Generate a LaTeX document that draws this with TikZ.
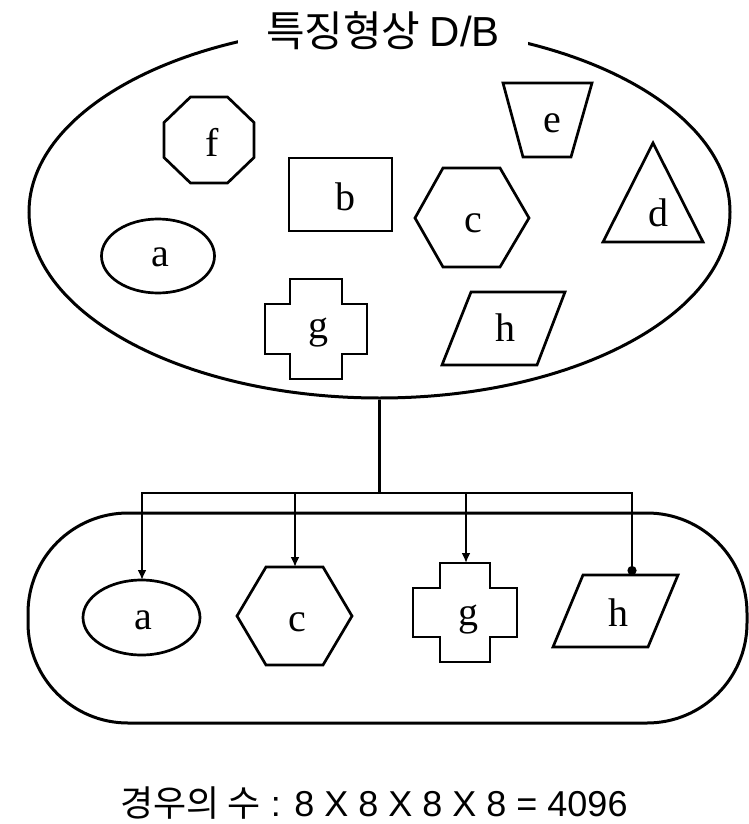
\documentclass[tikz,border=0pt]{standalone}
\usepackage{fontspec}
\setmainfont{Liberation Sans}
\newfontfamily\kr{Noto Sans CJK KR}
\newfontfamily\lett{Liberation Serif}
\usetikzlibrary{shapes.geometric,arrows.meta}

\begin{document}
\begin{tikzpicture}[x=1pt,y=-1pt,
  outline/.style={draw=black,line width=3pt},
  part/.style={draw=black,line width=2.7pt,line join=miter},
  lbl/.style={inner sep=0pt,font=\lett\fontsize{40}{46}\selectfont},
  wire/.style={draw=black,line width=2.5pt},
  arr/.style={wire,-{Latex[length=10pt,width=9pt]}},
  dotarr/.style={wire,-{Circle[length=9pt]}},
  title/.style={fill=white,inner xsep=28pt,inner ysep=6pt,font=\kr\fontsize{42}{48}\selectfont},
]
\useasboundingbox (0,0) rectangle (748,824);

% feature database (upper ellipse)
\node[ellipse,outline,minimum width=701pt,minimum height=372pt,inner sep=0pt] (db) at (379.5,212) {};
\node[title] (dbtitle) at (383,31) {특징형상 {\fontspec{Liberation Sans}D/B}};

% shapes stored in the database
\draw[part] (190.5,97) -- (227.5,97) -- (254,122.5) -- (254,157.5) -- (227.5,183) -- (190.5,183) -- (164,157.5) -- (164,122.5) -- cycle;
\node[lbl] (f) at (212,142) {f};

\draw[part] (289,158) rectangle (392,231);
\node[lbl] (b) at (345,197) {b};

\draw[part] (503,83) -- (592,83) -- (571,157) -- (523,157) -- cycle;
\node[lbl] (e) at (552,123) {e};

\draw[part] (653,143) -- (703,242) -- (603,242) -- cycle;
\node[lbl] (d) at (658,213) {d};

\draw[part] (443,168) -- (500,168) -- (529,218) -- (500,267) -- (443,267) -- (415,218) -- cycle;
\node[lbl] (c) at (473,223) {c};

\draw[part] (158,256) ellipse [x radius=56.5, y radius=37];
\node[lbl] (a) at (160,257) {a};

\begin{scope}[shift={(316,329)}]
\draw[part] (-26,-50) -- (26,-50) -- (26,-25) -- (51,-25) -- (51,25) -- (26,25) -- (26,50) -- (-26,50) -- (-26,25) -- (-51,25) -- (-51,-25) -- (-26,-25) -- cycle;
\end{scope}
\node[lbl] (g) at (318,333) {g};

\draw[part] (471,292) -- (565,292) -- (537,365) -- (442,365) -- cycle;
\node[lbl] (h) at (505,328) {h};

% selected combination (lower rounded box)
\node[rectangle,rounded corners=100pt,outline,minimum width=719pt,minimum height=210pt,inner sep=0pt] (combo) at (387.5,618) {};

\draw[part] (141.5,617.5) ellipse [x radius=58.5, y radius=37.5];
\node[lbl] (a2) at (143,620) {a};

\draw[part] (266,567) -- (323,567) -- (352,616) -- (323,665) -- (266,665) -- (237,616) -- cycle;
\node[lbl] (c2) at (297,622) {c};

\begin{scope}[shift={(465,612.5)}]
\draw[part] (-25,-49.5) -- (25,-49.5) -- (25,-24.5) -- (52,-24.5) -- (52,24.5) -- (25,24.5) -- (25,49.5) -- (-25,49.5) -- (-25,24.5) -- (-52,24.5) -- (-52,-24.5) -- (-25,-24.5) -- cycle;
\end{scope}
\node[lbl] (g2) at (468,620) {g};

\draw[part] (583,575) -- (678,575) -- (648,647) -- (553,647) -- cycle;
\node[lbl] (h2) at (618,613) {h};

% connector tree
\coordinate (trunk) at (db.south |- 0,493);
\coordinate (jA) at (142,493);
\coordinate (jC) at (295,493);
\coordinate (jG) at (466,493);
\coordinate (jH) at (632,493);
\coordinate (a2top) at (142,580);
\coordinate (c2top) at (295,567);
\coordinate (g2top) at (466,563);
\coordinate (h2top) at (632,575);

\draw[wire] (db.south) -- (trunk);
\draw[wire,line cap=rect] (jA) -- (jH);
\draw[arr] (jA) -- (a2top);
\draw[arr] (jC) -- (c2top);
\draw[arr] (jG) -- (g2top);
\draw[dotarr] (jH) -- (h2top);

% number of cases
\node[inner sep=0pt,anchor=base,font=\fontsize{36}{42}\selectfont] (count) at (374,816) {{\kr 경우의 수} : 8 X 8 X 8 X 8 = 4096};
\end{tikzpicture}
\end{document}
